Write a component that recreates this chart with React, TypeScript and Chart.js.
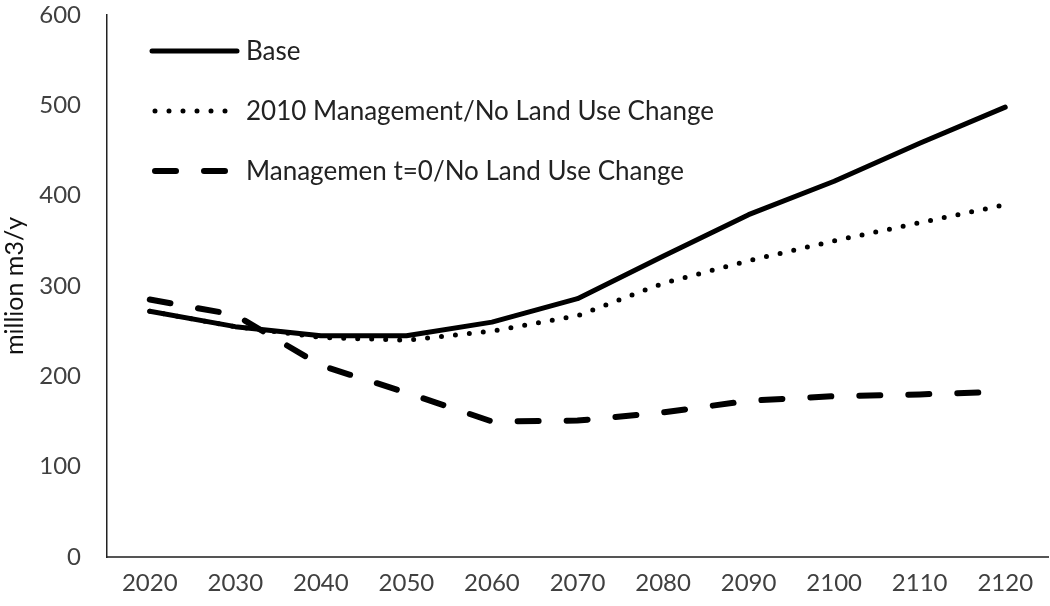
import React, { useEffect, useRef } from "react";
import { Chart, registerables } from "chart.js";

Chart.register(...registerables);

const years = ["2020", "2030", "2040", "2050", "2060", "2070", "2080", "2090", "2100", "2110", "2120"];
const baseValues = [272, 255, 245, 245, 260, 286, 333, 379, 416, 458, 498];
const mgmt2010Values = [272, 255, 243, 240, 250, 267, 303, 328, 350, 370, 390];
const mgmtZeroValues = [285, 268, 212, 182, 150, 151, 160, 173, 178, 180, 183];
const seriesLabels = [
  "Base",
  "2010 Management/No Land Use Change",
  "Managemen t=0/No Land Use Change",
];
const yTitle = "million m3/y";

const FONT = "Lato, 'Open Sans', sans-serif";

const legendPlugin = {
  id: "insideLegend",
  afterDraw(chart: any) {
    const ctx = chart.ctx;
    const area = chart.chartArea;
    const x0 = area.left + 45;
    const x1 = area.left + 130;
    const rows = [51, 111, 171];
    chart.data.datasets.forEach((ds: any, i: number) => {
      const y = rows[i];
      ctx.save();
      ctx.strokeStyle = ds.borderColor;
      ctx.lineWidth = ds.borderWidth;
      ctx.lineCap = ds.borderCapStyle || "butt";
      ctx.setLineDash(ds.borderDash || []);
      ctx.beginPath();
      ctx.moveTo(x0 + (i === 0 ? 0 : 3), y);
      ctx.lineTo(x1, y);
      ctx.stroke();
      ctx.setLineDash([]);
      ctx.fillStyle = "#222";
      ctx.font = `26px ${FONT}`;
      ctx.textBaseline = "middle";
      ctx.fillText(ds.label, x1 + 9, y + 1);
      ctx.restore();
    });
  },
};

export default function App() {
  const ref = useRef<HTMLCanvasElement | null>(null);
  useEffect(() => {
    document.body.style.margin = "0";
    const chart = new Chart(ref.current as HTMLCanvasElement, {
      type: "line",
      data: {
        labels: years,
        datasets: [
          {
            label: seriesLabels[0],
            data: baseValues,
            borderColor: "#000",
            borderWidth: 5,
            borderCapStyle: "round",
            borderJoinStyle: "round",
            pointRadius: 0,
            tension: 0,
            fill: false,
          },
          {
            label: seriesLabels[1],
            data: mgmt2010Values,
            borderColor: "#000",
            borderWidth: 5,
            borderCapStyle: "round",
            borderDash: [0, 14],
            pointRadius: 0,
            tension: 0,
            fill: false,
          },
          {
            label: seriesLabels[2],
            data: mgmtZeroValues,
            borderColor: "#000",
            borderWidth: 6,
            borderCapStyle: "round",
            borderDash: [21, 28],
            pointRadius: 0,
            tension: 0,
            fill: false,
          },
        ],
      },
      options: {
        animation: false,
        responsive: false,
        devicePixelRatio: 1,
        layout: { padding: { top: 15, right: 2, left: 0, bottom: 0 } },
        plugins: { legend: { display: false }, tooltip: { enabled: false } },
        scales: {
          x: {
            offset: true,
            grid: { display: false, drawTicks: false },
            border: { display: true, color: "#555", width: 2 },
            ticks: { color: "#404040", font: { family: FONT, size: 24 }, padding: 12, maxRotation: 0 },
            afterFit: (s: any) => { s.height = 49; s.paddingLeft = 0; s.paddingRight = 0; },
          },
          y: {
            min: 0,
            max: 600,
            ticks: { stepSize: 100, color: "#404040", font: { family: FONT, size: 24 }, padding: 26 },
            grid: { display: false, drawTicks: false },
            border: { display: true, color: "#222", width: 1.5 },
            title: { display: true, text: yTitle, color: "#111", font: { family: FONT, size: 25 }, padding: 0 },
            afterFit: (s: any) => { s.width = 107; s.paddingTop = 0; s.paddingBottom = 0; },
          },
        },
      },
      plugins: [legendPlugin],
    });
    return () => chart.destroy();
  }, []);
  return (
    <div style={{ width: 1050, height: 606, background: "#fff" }}>
      <canvas ref={ref} width={1050} height={606} />
    </div>
  );
}
